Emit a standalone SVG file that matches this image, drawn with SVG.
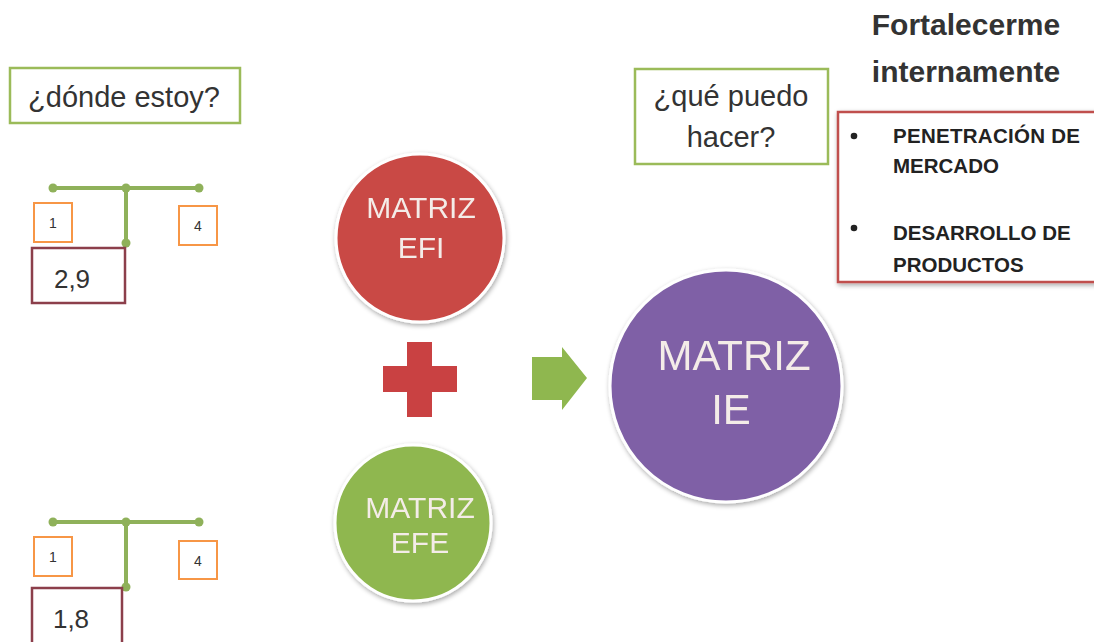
<svg xmlns="http://www.w3.org/2000/svg" width="1094" height="642" viewBox="0 0 1094 642">
<defs>
<filter id="sh" x="-20%" y="-20%" width="140%" height="140%">
<feGaussianBlur in="SourceAlpha" stdDeviation="2.5"/>
<feOffset dx="1" dy="2" result="b"/>
<feComponentTransfer><feFuncA type="linear" slope="0.35"/></feComponentTransfer>
<feMerge><feMergeNode/><feMergeNode in="SourceGraphic"/></feMerge>
</filter>
</defs>
<style>
.t{font-family:"Liberation Sans",Arial,sans-serif;fill:#333;}
.gbox{fill:#fff;stroke:#9bbb59;stroke-width:2.5;}
.obox{fill:#fff;stroke:#f79646;stroke-width:2;}
.rbox{fill:#fff;stroke:#8c3f4b;stroke-width:2.5;}
.tl{stroke:#8fb15a;stroke-width:4;fill:none;}
.dot{fill:#8fb15a;}
.ct{font-family:"Liberation Sans",Arial,sans-serif;fill:#f4ece8;text-anchor:middle;}
.b{font-family:"Liberation Sans",Arial,sans-serif;font-weight:bold;fill:#222;font-size:20.5px;}
.n{font-family:"Liberation Sans",Arial,sans-serif;fill:#333;font-size:14px;text-anchor:middle;}
</style>
<rect width="1094" height="642" fill="#fff"/>

<g id="donde">
<rect class="gbox" x="10" y="68" width="230" height="55"/>
<text class="t" x="124" y="107" font-size="29" text-anchor="middle">¿dónde estoy?</text>
</g>

<g id="scale1">
<path class="tl" d="M53 188 H199 M126 188 V243"/>
<circle class="dot" cx="53" cy="188" r="4.5"/><circle class="dot" cx="126" cy="188" r="4.5"/><circle class="dot" cx="199" cy="188" r="4.5"/><circle class="dot" cx="126" cy="243" r="4.5"/>
<rect class="obox" x="34" y="203" width="38" height="39"/>
<text class="n" x="53" y="228">1</text>
<rect class="obox" x="179" y="206" width="38" height="39"/>
<text class="n" x="198" y="231">4</text>
<rect class="rbox" x="32" y="248" width="93" height="55"/>
<text class="t" x="72" y="288" font-size="26" text-anchor="middle" fill="#222">2,9</text>
</g>

<g id="scale2">
<path class="tl" d="M53 522 H199 M126 522 V587"/>
<circle class="dot" cx="53" cy="522" r="4.5"/><circle class="dot" cx="126" cy="522" r="4.5"/><circle class="dot" cx="199" cy="522" r="4.5"/><circle class="dot" cx="126" cy="587" r="4.5"/>
<rect class="obox" x="34" y="537" width="38" height="39"/>
<text class="n" x="53" y="562">1</text>
<rect class="obox" x="179" y="541" width="38" height="38"/>
<text class="n" x="198" y="566">4</text>
<rect class="rbox" x="32" y="588" width="90" height="60"/>
<text class="t" x="71" y="628" font-size="26" text-anchor="middle" fill="#222">1,8</text>
</g>

<g id="efi" filter="url(#sh)">
<circle cx="420" cy="238" r="84" fill="#c94845" stroke="#fff" stroke-width="3"/>
<text class="ct" x="421" y="218" font-size="30">MATRIZ</text>
<text class="ct" x="421" y="258" font-size="30">EFI</text>
</g>

<g id="efe" filter="url(#sh)">
<circle cx="413" cy="523" r="78" fill="#8fb74f" stroke="#fff" stroke-width="3"/>
<text class="ct" x="420" y="518" font-size="30">MATRIZ</text>
<text class="ct" x="420" y="553" font-size="30">EFE</text>
</g>

<g id="ie" filter="url(#sh)">
<circle cx="726" cy="386" r="116" fill="#7f61a6" stroke="#fff" stroke-width="3"/>
<text class="ct" x="734" y="370" font-size="42">MATRIZ</text>
<text class="ct" x="731" y="424" font-size="42">IE</text>
</g>

<g id="plus">
<path d="M407 342 H432 V366 H457 V392 H432 V417 H407 V392 H383 V366 H407 Z" fill="#c94142"/>
</g>

<g id="connectors">
<path d="M532 357 H562 V347 L587 378 L562 410 V400 H532 Z" fill="#8fb74f"/>
</g>

<g id="que">
<rect class="gbox" x="635" y="69" width="193" height="95"/>
<text class="t" x="731" y="106" font-size="29" text-anchor="middle">¿qué puedo</text>
<text class="t" x="731" y="147" font-size="29" text-anchor="middle">hacer?</text>
</g>

<g id="fort">
<text class="t" x="966" y="35" font-size="30" font-weight="bold" text-anchor="middle" fill="#111">Fortalecerme</text>
<text class="t" x="966" y="82" font-size="30" font-weight="bold" text-anchor="middle" fill="#111">internamente</text>
</g>

<g id="estrategias">
<rect x="838" y="112" width="270" height="170" fill="#fff" stroke="#c0504d" stroke-width="2.5" filter="url(#sh)"/>
<circle cx="854" cy="136" r="3.3" fill="#222"/>
<circle cx="854" cy="228" r="3.3" fill="#222"/>
<text class="b" x="893" y="143" textLength="187" lengthAdjust="spacing">PENETRACIÓN DE</text>
<text class="b" x="893" y="173">MERCADO</text>
<text class="b" x="893" y="240">DESARROLLO DE</text>
<text class="b" x="893" y="272">PRODUCTOS</text>
</g>
</svg>
